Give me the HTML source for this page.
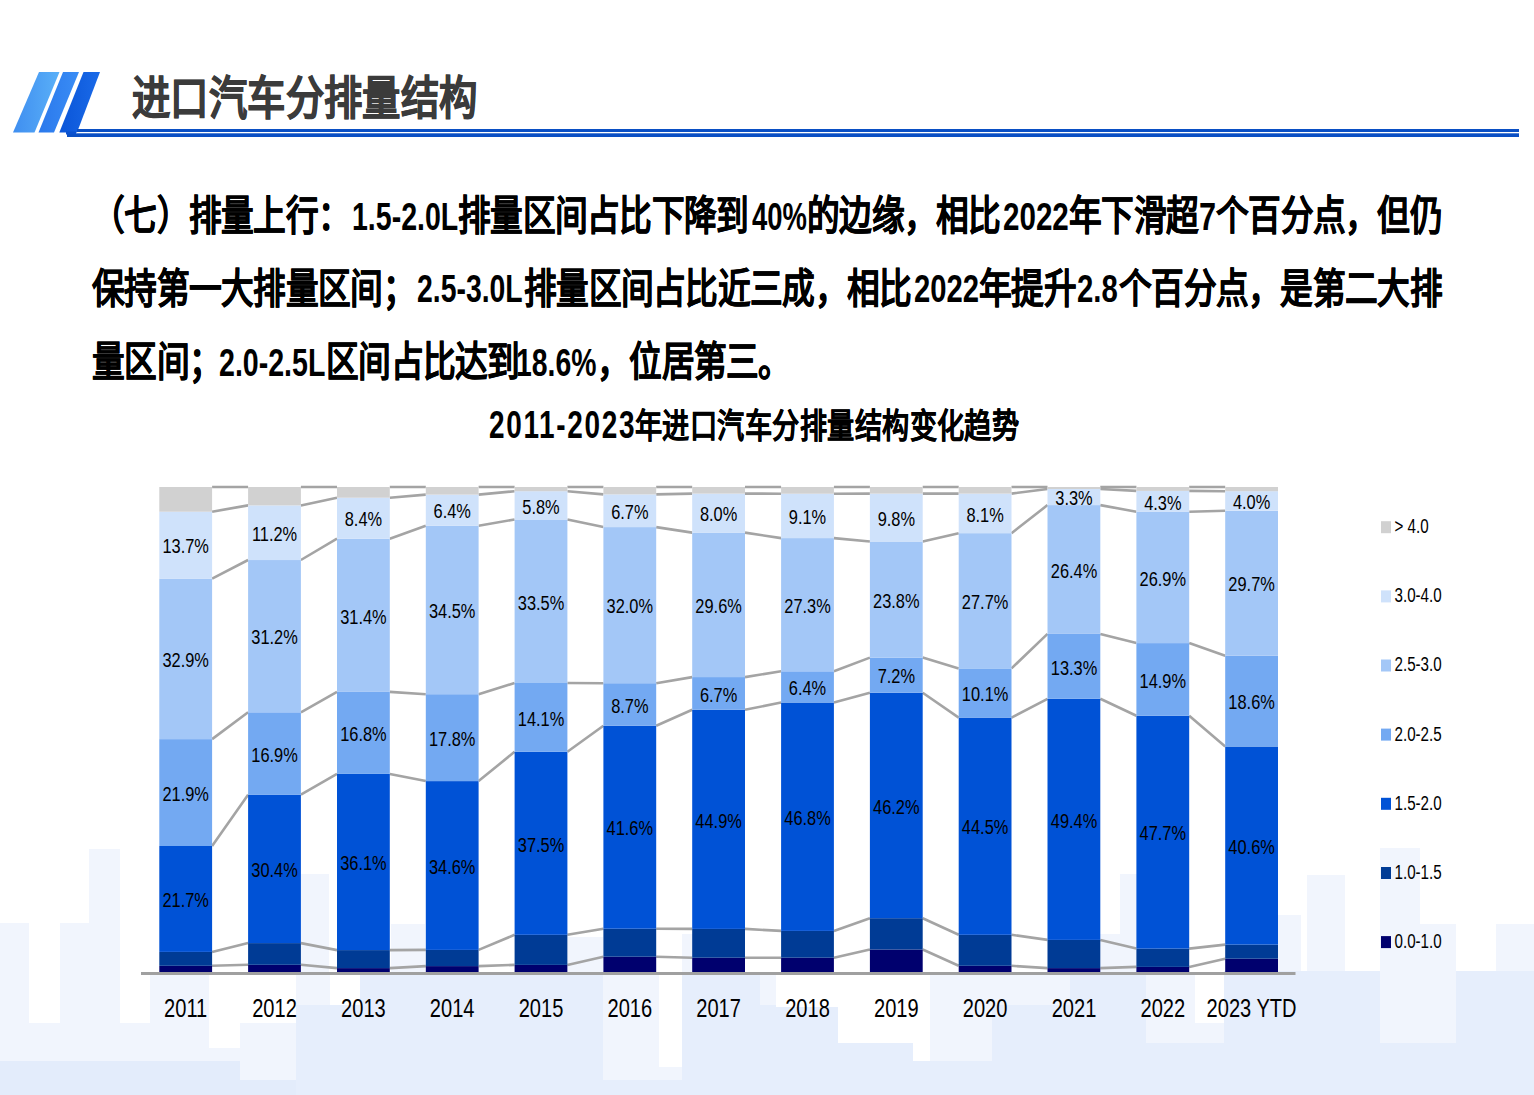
<!DOCTYPE html>
<html lang="zh-CN"><head><meta charset="utf-8">
<style>
html,body{margin:0;padding:0;background:#fff;}
body{width:1534px;height:1095px;overflow:hidden;position:relative;font-family:"Liberation Sans",sans-serif;}
.a{position:absolute;white-space:nowrap;transform-origin:0 0;text-spacing-trim:space-all;}
svg text{font-family:"Liberation Sans",sans-serif;fill:#000;}
.dl{font-size:20.70px;text-anchor:middle;}
.yl{font-size:25.63px;text-anchor:middle;}
.lg{font-size:19.30px;}
</style></head><body>

<svg class="a" style="left:0;top:0" width="1534" height="1095" shape-rendering="crispEdges"><rect x="0" y="923" width="29" height="138" fill="#f1f5fd"/><rect x="0" y="1061" width="29" height="34" fill="#e3ecfb"/><rect x="29" y="1023" width="31" height="38" fill="#f1f5fd"/><rect x="29" y="1061" width="31" height="34" fill="#e3ecfb"/><rect x="60" y="923" width="29" height="138" fill="#f1f5fd"/><rect x="60" y="1061" width="29" height="34" fill="#e3ecfb"/><rect x="89" y="849" width="31" height="212" fill="#f1f5fd"/><rect x="89" y="1061" width="31" height="34" fill="#e3ecfb"/><rect x="120" y="1023" width="30" height="38" fill="#f1f5fd"/><rect x="120" y="1061" width="30" height="34" fill="#e3ecfb"/><rect x="150" y="975" width="59" height="86" fill="#f1f5fd"/><rect x="150" y="1061" width="59" height="34" fill="#e3ecfb"/><rect x="209" y="1048" width="31" height="13" fill="#f1f5fd"/><rect x="209" y="1061" width="31" height="34" fill="#e3ecfb"/><rect x="240" y="1023" width="56" height="57" fill="#f1f5fd"/><rect x="240" y="1080" width="56" height="15" fill="#e3ecfb"/><rect x="296" y="975" width="34" height="30" fill="#f1f5fd"/><rect x="296" y="1005" width="34" height="90" fill="#e6eefc"/><rect x="301" y="874" width="28" height="101" fill="#f1f5fd"/><rect x="330" y="1005" width="30" height="90" fill="#e6eefc"/><rect x="360" y="975" width="243" height="120" fill="#e6eefc"/><rect x="391" y="924" width="34" height="51" fill="#f1f5fd"/><rect x="568" y="937" width="35" height="38" fill="#f1f5fd"/><rect x="603" y="975" width="56" height="105" fill="#f1f5fd"/><rect x="603" y="1080" width="56" height="15" fill="#e6eefc"/><rect x="659" y="1067" width="23" height="13" fill="#f1f5fd"/><rect x="659" y="1080" width="23" height="15" fill="#e6eefc"/><rect x="682" y="934" width="18" height="41" fill="#f1f5fd"/><rect x="682" y="975" width="78" height="120" fill="#e6eefc"/><rect x="760" y="975" width="16" height="30" fill="#f1f5fd"/><rect x="760" y="1005" width="16" height="90" fill="#e6eefc"/><rect x="776" y="1007" width="62" height="88" fill="#e6eefc"/><rect x="838" y="1043" width="75" height="52" fill="#e6eefc"/><rect x="913" y="1061" width="17" height="34" fill="#e6eefc"/><rect x="930" y="975" width="62" height="86" fill="#f1f5fd"/><rect x="930" y="1061" width="62" height="34" fill="#e6eefc"/><rect x="992" y="975" width="78" height="30" fill="#f1f5fd"/><rect x="992" y="1005" width="78" height="90" fill="#e6eefc"/><rect x="1070" y="975" width="76" height="120" fill="#e6eefc"/><rect x="1120" y="874" width="36" height="101" fill="#f1f5fd"/><rect x="1090" y="934" width="56" height="41" fill="#f1f5fd"/><rect x="1146" y="975" width="49" height="68" fill="#f1f5fd"/><rect x="1146" y="1043" width="49" height="52" fill="#e6eefc"/><rect x="1195" y="1023" width="29" height="20" fill="#f1f5fd"/><rect x="1195" y="1043" width="29" height="52" fill="#e6eefc"/><rect x="1224" y="971" width="156" height="124" fill="#e6eefc"/><rect x="1278" y="915" width="23" height="56" fill="#f1f5fd"/><rect x="1307" y="875" width="38" height="96" fill="#f1f5fd"/><rect x="1380" y="848" width="40" height="76" fill="#f1f5fd"/><rect x="1380" y="924" width="76" height="119" fill="#f1f5fd"/><rect x="1380" y="1043" width="76" height="52" fill="#e6eefc"/><rect x="1456" y="971" width="40" height="124" fill="#e6eefc"/><rect x="1496" y="924" width="38" height="47" fill="#f1f5fd"/><rect x="1496" y="971" width="38" height="124" fill="#e6eefc"/></svg>
<svg class="a" style="left:0;top:0" width="1534" height="160">
<defs>
<linearGradient id="g1" x1="0" y1="0" x2="1" y2="0"><stop offset="0" stop-color="#3f8ef0"/><stop offset="1" stop-color="#5ab0f8"/></linearGradient>
<linearGradient id="g2" x1="0" y1="0" x2="1" y2="0"><stop offset="0" stop-color="#2a78ec"/><stop offset="1" stop-color="#3a8df5"/></linearGradient>
<linearGradient id="g3" x1="0" y1="0" x2="1" y2="0"><stop offset="0" stop-color="#0a55d8"/><stop offset="1" stop-color="#1a6ae8"/></linearGradient>
</defs>
<polygon points="39,72 59.5,72 34.5,132.5 13,132.5" fill="url(#g1)"/>
<polygon points="63,72 79,72 54,132.5 38.5,132.5" fill="url(#g2)"/>
<polygon points="83.5,72 100,72 77,132.4 59.3,132.4" fill="url(#g3)"/>
<rect x="77" y="129" width="1442" height="3" fill="#0a4fc4"/>
<rect x="67" y="133.3" width="1452" height="3.7" fill="#0a4fc4"/>
<rect x="66" y="131.5" width="10" height="3" fill="#0b52d0"/>
</svg>
<div class="a" style="left:351.79px;top:197.60px;font-size:38.03px;line-height:38.03px;font-weight:bold;color:#000;transform:scaleX(0.7505)">1.5-2.0L</div>
<div class="a" style="left:751.95px;top:197.60px;font-size:38.03px;line-height:38.03px;font-weight:bold;color:#000;transform:scaleX(0.7215)">40%</div>
<div class="a" style="left:1002.81px;top:197.60px;font-size:38.03px;line-height:38.03px;font-weight:bold;color:#000;transform:scaleX(0.7779)">2022</div>
<div class="a" style="left:1199.07px;top:196.95px;font-size:39.71px;line-height:39.71px;font-weight:bold;color:#000;transform:scaleX(0.7716)">7</div>
<div class="a" style="left:417.25px;top:270.35px;font-size:38.31px;line-height:38.31px;font-weight:bold;color:#000;transform:scaleX(0.7410)">2.5-3.0L</div>
<div class="a" style="left:913.82px;top:270.35px;font-size:38.31px;line-height:38.31px;font-weight:bold;color:#000;transform:scaleX(0.7624)">2022</div>
<div class="a" style="left:1077.42px;top:270.35px;font-size:38.31px;line-height:38.31px;font-weight:bold;color:#000;transform:scaleX(0.7654)">2.8</div>
<div class="a" style="left:219.14px;top:343.59px;font-size:38.73px;line-height:38.73px;font-weight:bold;color:#000;transform:scaleX(0.7379)">2.0-2.5L</div>
<div class="a" style="left:516.40px;top:343.59px;font-size:38.73px;line-height:38.73px;font-weight:bold;color:#000;transform:scaleX(0.7323)">18.6%</div>
<div class="a" style="left:132.03px;top:75.72px;font-size:45.92px;line-height:45.92px;font-weight:bold;color:#3b3b3b;transform:scaleX(0.8345);-webkit-text-stroke:0.7px #3b3b3b">进口汽车分排量结构</div>
<div class="a" style="left:488.76px;top:406.10px;font-size:38.03px;line-height:38.03px;font-weight:bold;color:#000;transform:scaleX(0.7352);letter-spacing:0.06em">2011-2023</div>
<div class="a" style="left:635.08px;top:410.47px;font-size:33.67px;line-height:33.67px;font-weight:bold;color:#000;transform:scaleX(0.8075);-webkit-text-stroke:0.2px #000">年进口汽车分排量结构变化趋势</div>
<div class="a" style="left:92.00px;top:195.81px;font-size:40.50px;line-height:40.50px;font-weight:bold;color:#000;transform:scaleX(0.8074);-webkit-text-stroke:0.3px #000">（七）排量上行：</div>
<div class="a" style="left:458.20px;top:195.81px;font-size:40.50px;line-height:40.50px;font-weight:bold;color:#000;transform:scaleX(0.8074);-webkit-text-stroke:0.3px #000">排量区间占比下降到</div>
<div class="a" style="left:806.50px;top:195.81px;font-size:40.50px;line-height:40.50px;font-weight:bold;color:#000;transform:scaleX(0.8074);-webkit-text-stroke:0.3px #000">的边缘，相比</div>
<div class="a" style="left:1068.50px;top:195.81px;font-size:40.50px;line-height:40.50px;font-weight:bold;color:#000;transform:scaleX(0.8074);-webkit-text-stroke:0.3px #000">年下滑超</div>
<div class="a" style="left:1216.00px;top:195.81px;font-size:40.50px;line-height:40.50px;font-weight:bold;color:#000;transform:scaleX(0.8074);-webkit-text-stroke:0.3px #000">个百分点，但仍</div>
<div class="a" style="left:92.00px;top:268.50px;font-size:40.50px;line-height:40.50px;font-weight:bold;color:#000;transform:scaleX(0.8074);-webkit-text-stroke:0.3px #000">保持第一大排量区间；</div>
<div class="a" style="left:523.50px;top:268.50px;font-size:40.50px;line-height:40.50px;font-weight:bold;color:#000;transform:scaleX(0.8074);-webkit-text-stroke:0.3px #000">排量区间占比近三成，相比</div>
<div class="a" style="left:979.00px;top:268.50px;font-size:40.50px;line-height:40.50px;font-weight:bold;color:#000;transform:scaleX(0.8074);-webkit-text-stroke:0.3px #000">年提升</div>
<div class="a" style="left:1119.00px;top:268.50px;font-size:40.50px;line-height:40.50px;font-weight:bold;color:#000;transform:scaleX(0.8074);-webkit-text-stroke:0.3px #000">个百分点，是第二大排</div>
<div class="a" style="left:92.00px;top:341.80px;font-size:40.50px;line-height:40.50px;font-weight:bold;color:#000;transform:scaleX(0.8074);-webkit-text-stroke:0.3px #000">量区间；</div>
<div class="a" style="left:326.00px;top:341.80px;font-size:40.50px;line-height:40.50px;font-weight:bold;color:#000;transform:scaleX(0.8074);-webkit-text-stroke:0.3px #000">区间占比达到</div>
<div class="a" style="left:597.00px;top:341.80px;font-size:40.50px;line-height:40.50px;font-weight:bold;color:#000;transform:scaleX(0.8074);-webkit-text-stroke:0.3px #000">，位居第三。</div>
<svg class="a" style="left:0;top:0" width="1534" height="1095">
<path d="M212.1,965.8 L248.1,964.8 M300.9,964.8 L337.0,968.1 M389.8,968.1 L425.8,966.1 M478.6,966.1 L514.6,964.9 M567.4,964.9 L603.4,956.7 M656.2,956.7 L692.2,957.7 M745.0,957.7 L781.1,957.7 M833.9,957.7 L869.9,949.5 M922.7,949.5 L958.7,965.8 M1011.5,965.8 L1047.5,968.1 M1100.3,968.1 L1136.4,966.9 M1189.2,966.9 L1225.2,958.7" stroke="#a4a4a4" stroke-width="2.6" fill="none"/>
<path d="M212.1,951.9 L248.1,943.1 M300.9,943.1 L337.0,950.1 M389.8,950.1 L425.8,949.9 M478.6,949.9 L514.6,934.8 M567.4,934.8 L603.4,928.7 M656.2,928.7 L692.2,928.9 M745.0,928.9 L781.1,930.9 M833.9,930.9 L869.9,918.2 M922.7,918.2 L958.7,934.8 M1011.5,934.8 L1047.5,939.9 M1100.3,939.9 L1136.4,948.6 M1189.2,948.6 L1225.2,944.6" stroke="#a4a4a4" stroke-width="2.6" fill="none"/>
<path d="M212.1,846.0 L248.1,794.7 M300.9,794.7 L337.0,773.9 M389.8,773.9 L425.8,781.1 M478.6,781.1 L514.6,751.8 M567.4,751.8 L603.4,725.7 M656.2,725.7 L692.2,709.8 M745.0,709.8 L781.1,702.5 M833.9,702.5 L869.9,692.7 M922.7,692.7 L958.7,717.6 M1011.5,717.6 L1047.5,698.8 M1100.3,698.8 L1136.4,715.8 M1189.2,715.8 L1225.2,746.5" stroke="#a4a4a4" stroke-width="2.6" fill="none"/>
<path d="M212.1,739.1 L248.1,712.3 M300.9,712.3 L337.0,691.9 M389.8,691.9 L425.8,694.2 M478.6,694.2 L514.6,683.0 M567.4,683.0 L603.4,683.2 M656.2,683.2 L692.2,677.1 M745.0,677.1 L781.1,671.3 M833.9,671.3 L869.9,657.6 M922.7,657.6 L958.7,668.4 M1011.5,668.4 L1047.5,633.9 M1100.3,633.9 L1136.4,643.1 M1189.2,643.1 L1225.2,655.7" stroke="#a4a4a4" stroke-width="2.6" fill="none"/>
<path d="M212.1,578.6 L248.1,560.0 M300.9,560.0 L337.0,538.7 M389.8,538.7 L425.8,525.8 M478.6,525.8 L514.6,519.5 M567.4,519.5 L603.4,527.1 M656.2,527.1 L692.2,532.6 M745.0,532.6 L781.1,538.1 M833.9,538.1 L869.9,541.5 M922.7,541.5 L958.7,533.2 M1011.5,533.2 L1047.5,505.1 M1100.3,505.1 L1136.4,511.8 M1189.2,511.8 L1225.2,510.8" stroke="#a4a4a4" stroke-width="2.6" fill="none"/>
<path d="M212.1,511.7 L248.1,505.4 M300.9,505.4 L337.0,497.7 M389.8,497.7 L425.8,494.6 M478.6,494.6 L514.6,491.2 M567.4,491.2 L603.4,494.4 M656.2,494.4 L692.2,493.6 M745.0,493.6 L781.1,493.7 M833.9,493.7 L869.9,493.6 M922.7,493.6 L958.7,493.6 M1011.5,493.6 L1047.5,489.0 M1100.3,489.0 L1136.4,490.9 M1189.2,490.9 L1225.2,491.2" stroke="#a4a4a4" stroke-width="2.6" fill="none"/>
<path d="M212.1,487.0 L248.1,487.0 M300.9,487.0 L337.0,487.0 M389.8,487.0 L425.8,487.0 M478.6,487.0 L514.6,487.0 M567.4,487.0 L603.4,487.0 M656.2,487.0 L692.2,487.0 M745.0,487.0 L781.1,487.0 M833.9,487.0 L869.9,487.0 M922.7,487.0 L958.7,487.0 M1011.5,487.0 L1047.5,487.0 M1100.3,487.0 L1136.4,487.0 M1189.2,487.0 L1225.2,487.0" stroke="#a4a4a4" stroke-width="2.6" fill="none"/>
<rect x="159.3" y="965.8" width="52.8" height="6.2" fill="#00006e"/>
<rect x="159.3" y="951.9" width="52.8" height="13.9" fill="#003b95"/>
<rect x="159.3" y="846.0" width="52.8" height="105.9" fill="#0052d6"/>
<rect x="159.3" y="739.1" width="52.8" height="106.9" fill="#73a9f2"/>
<rect x="159.3" y="578.6" width="52.8" height="160.6" fill="#a3c7f7"/>
<rect x="159.3" y="511.7" width="52.8" height="66.9" fill="#cfe2fb"/>
<rect x="159.3" y="487.0" width="52.8" height="24.7" fill="#d1d1d1"/>
<rect x="248.1" y="964.8" width="52.8" height="7.2" fill="#00006e"/>
<rect x="248.1" y="943.1" width="52.8" height="21.7" fill="#003b95"/>
<rect x="248.1" y="794.7" width="52.8" height="148.4" fill="#0052d6"/>
<rect x="248.1" y="712.3" width="52.8" height="82.5" fill="#73a9f2"/>
<rect x="248.1" y="560.0" width="52.8" height="152.3" fill="#a3c7f7"/>
<rect x="248.1" y="505.4" width="52.8" height="54.7" fill="#cfe2fb"/>
<rect x="248.1" y="487.0" width="52.8" height="18.4" fill="#d1d1d1"/>
<rect x="337.0" y="968.1" width="52.8" height="3.9" fill="#00006e"/>
<rect x="337.0" y="950.1" width="52.8" height="18.0" fill="#003b95"/>
<rect x="337.0" y="773.9" width="52.8" height="176.2" fill="#0052d6"/>
<rect x="337.0" y="691.9" width="52.8" height="82.0" fill="#73a9f2"/>
<rect x="337.0" y="538.7" width="52.8" height="153.2" fill="#a3c7f7"/>
<rect x="337.0" y="497.7" width="52.8" height="41.0" fill="#cfe2fb"/>
<rect x="337.0" y="487.0" width="52.8" height="10.7" fill="#d1d1d1"/>
<rect x="425.8" y="966.1" width="52.8" height="5.9" fill="#00006e"/>
<rect x="425.8" y="949.9" width="52.8" height="16.2" fill="#003b95"/>
<rect x="425.8" y="781.1" width="52.8" height="168.8" fill="#0052d6"/>
<rect x="425.8" y="694.2" width="52.8" height="86.9" fill="#73a9f2"/>
<rect x="425.8" y="525.8" width="52.8" height="168.4" fill="#a3c7f7"/>
<rect x="425.8" y="494.6" width="52.8" height="31.2" fill="#cfe2fb"/>
<rect x="425.8" y="487.0" width="52.8" height="7.6" fill="#d1d1d1"/>
<rect x="514.6" y="964.9" width="52.8" height="7.1" fill="#00006e"/>
<rect x="514.6" y="934.8" width="52.8" height="30.1" fill="#003b95"/>
<rect x="514.6" y="751.8" width="52.8" height="183.0" fill="#0052d6"/>
<rect x="514.6" y="683.0" width="52.8" height="68.8" fill="#73a9f2"/>
<rect x="514.6" y="519.5" width="52.8" height="163.5" fill="#a3c7f7"/>
<rect x="514.6" y="491.2" width="52.8" height="28.3" fill="#cfe2fb"/>
<rect x="514.6" y="487.0" width="52.8" height="4.2" fill="#d1d1d1"/>
<rect x="603.4" y="956.7" width="52.8" height="15.3" fill="#00006e"/>
<rect x="603.4" y="928.7" width="52.8" height="28.0" fill="#003b95"/>
<rect x="603.4" y="725.7" width="52.8" height="203.0" fill="#0052d6"/>
<rect x="603.4" y="683.2" width="52.8" height="42.5" fill="#73a9f2"/>
<rect x="603.4" y="527.1" width="52.8" height="156.2" fill="#a3c7f7"/>
<rect x="603.4" y="494.4" width="52.8" height="32.7" fill="#cfe2fb"/>
<rect x="603.4" y="487.0" width="52.8" height="7.4" fill="#d1d1d1"/>
<rect x="692.2" y="957.7" width="52.8" height="14.3" fill="#00006e"/>
<rect x="692.2" y="928.9" width="52.8" height="28.8" fill="#003b95"/>
<rect x="692.2" y="709.8" width="52.8" height="219.1" fill="#0052d6"/>
<rect x="692.2" y="677.1" width="52.8" height="32.7" fill="#73a9f2"/>
<rect x="692.2" y="532.6" width="52.8" height="144.4" fill="#a3c7f7"/>
<rect x="692.2" y="493.6" width="52.8" height="39.0" fill="#cfe2fb"/>
<rect x="692.2" y="487.0" width="52.8" height="6.6" fill="#d1d1d1"/>
<rect x="781.1" y="957.7" width="52.8" height="14.3" fill="#00006e"/>
<rect x="781.1" y="930.9" width="52.8" height="26.8" fill="#003b95"/>
<rect x="781.1" y="702.5" width="52.8" height="228.4" fill="#0052d6"/>
<rect x="781.1" y="671.3" width="52.8" height="31.2" fill="#73a9f2"/>
<rect x="781.1" y="538.1" width="52.8" height="133.2" fill="#a3c7f7"/>
<rect x="781.1" y="493.7" width="52.8" height="44.4" fill="#cfe2fb"/>
<rect x="781.1" y="487.0" width="52.8" height="6.7" fill="#d1d1d1"/>
<rect x="869.9" y="949.5" width="52.8" height="22.5" fill="#00006e"/>
<rect x="869.9" y="918.2" width="52.8" height="31.3" fill="#003b95"/>
<rect x="869.9" y="692.7" width="52.8" height="225.5" fill="#0052d6"/>
<rect x="869.9" y="657.6" width="52.8" height="35.1" fill="#73a9f2"/>
<rect x="869.9" y="541.5" width="52.8" height="116.1" fill="#a3c7f7"/>
<rect x="869.9" y="493.6" width="52.8" height="47.8" fill="#cfe2fb"/>
<rect x="869.9" y="487.0" width="52.8" height="6.6" fill="#d1d1d1"/>
<rect x="958.7" y="965.8" width="52.8" height="6.2" fill="#00006e"/>
<rect x="958.7" y="934.8" width="52.8" height="31.0" fill="#003b95"/>
<rect x="958.7" y="717.6" width="52.8" height="217.2" fill="#0052d6"/>
<rect x="958.7" y="668.4" width="52.8" height="49.3" fill="#73a9f2"/>
<rect x="958.7" y="533.2" width="52.8" height="135.2" fill="#a3c7f7"/>
<rect x="958.7" y="493.6" width="52.8" height="39.5" fill="#cfe2fb"/>
<rect x="958.7" y="487.0" width="52.8" height="6.6" fill="#d1d1d1"/>
<rect x="1047.5" y="968.1" width="52.8" height="3.9" fill="#00006e"/>
<rect x="1047.5" y="939.9" width="52.8" height="28.2" fill="#003b95"/>
<rect x="1047.5" y="698.8" width="52.8" height="241.1" fill="#0052d6"/>
<rect x="1047.5" y="633.9" width="52.8" height="64.9" fill="#73a9f2"/>
<rect x="1047.5" y="505.1" width="52.8" height="128.8" fill="#a3c7f7"/>
<rect x="1047.5" y="489.0" width="52.8" height="16.1" fill="#cfe2fb"/>
<rect x="1047.5" y="487.0" width="52.8" height="2.0" fill="#d1d1d1"/>
<rect x="1136.4" y="966.9" width="52.8" height="5.1" fill="#00006e"/>
<rect x="1136.4" y="948.6" width="52.8" height="18.3" fill="#003b95"/>
<rect x="1136.4" y="715.8" width="52.8" height="232.8" fill="#0052d6"/>
<rect x="1136.4" y="643.1" width="52.8" height="72.7" fill="#73a9f2"/>
<rect x="1136.4" y="511.8" width="52.8" height="131.3" fill="#a3c7f7"/>
<rect x="1136.4" y="490.9" width="52.8" height="21.0" fill="#cfe2fb"/>
<rect x="1136.4" y="487.0" width="52.8" height="3.9" fill="#d1d1d1"/>
<rect x="1225.2" y="958.7" width="52.8" height="13.3" fill="#00006e"/>
<rect x="1225.2" y="944.6" width="52.8" height="14.1" fill="#003b95"/>
<rect x="1225.2" y="746.5" width="52.8" height="198.1" fill="#0052d6"/>
<rect x="1225.2" y="655.7" width="52.8" height="90.8" fill="#73a9f2"/>
<rect x="1225.2" y="510.8" width="52.8" height="144.9" fill="#a3c7f7"/>
<rect x="1225.2" y="491.2" width="52.8" height="19.5" fill="#cfe2fb"/>
<rect x="1225.2" y="487.0" width="52.8" height="4.2" fill="#d1d1d1"/>
<rect x="141" y="972" width="1154.5" height="3" fill="#a0a0a0"/>
<text transform="translate(185.7,907.2) scale(0.7920,1)" class="dl">21.7%</text>
<text transform="translate(185.7,800.8) scale(0.7920,1)" class="dl">21.9%</text>
<text transform="translate(185.7,667.1) scale(0.7920,1)" class="dl">32.9%</text>
<text transform="translate(185.7,553.4) scale(0.7920,1)" class="dl">13.7%</text>
<text transform="translate(185.7,1016.8) scale(0.7840,1)" class="yl">2011</text>
<text transform="translate(274.5,877.1) scale(0.7920,1)" class="dl">30.4%</text>
<text transform="translate(274.5,761.7) scale(0.7920,1)" class="dl">16.9%</text>
<text transform="translate(274.5,644.3) scale(0.7920,1)" class="dl">31.2%</text>
<text transform="translate(274.5,540.9) scale(0.7920,1)" class="dl">11.2%</text>
<text transform="translate(274.5,1016.8) scale(0.7840,1)" class="yl">2012</text>
<text transform="translate(363.4,870.2) scale(0.7920,1)" class="dl">36.1%</text>
<text transform="translate(363.4,741.1) scale(0.7920,1)" class="dl">16.8%</text>
<text transform="translate(363.4,623.5) scale(0.7920,1)" class="dl">31.4%</text>
<text transform="translate(363.4,526.4) scale(0.7920,1)" class="dl">8.4%</text>
<text transform="translate(363.4,1016.8) scale(0.7840,1)" class="yl">2013</text>
<text transform="translate(452.2,873.7) scale(0.7920,1)" class="dl">34.6%</text>
<text transform="translate(452.2,745.8) scale(0.7920,1)" class="dl">17.8%</text>
<text transform="translate(452.2,618.2) scale(0.7920,1)" class="dl">34.5%</text>
<text transform="translate(452.2,518.4) scale(0.7920,1)" class="dl">6.4%</text>
<text transform="translate(452.2,1016.8) scale(0.7840,1)" class="yl">2014</text>
<text transform="translate(541.0,851.5) scale(0.7920,1)" class="dl">37.5%</text>
<text transform="translate(541.0,725.6) scale(0.7920,1)" class="dl">14.1%</text>
<text transform="translate(541.0,609.5) scale(0.7920,1)" class="dl">33.5%</text>
<text transform="translate(541.0,513.6) scale(0.7920,1)" class="dl">5.8%</text>
<text transform="translate(541.0,1016.8) scale(0.7840,1)" class="yl">2015</text>
<text transform="translate(629.8,835.4) scale(0.7920,1)" class="dl">41.6%</text>
<text transform="translate(629.8,712.7) scale(0.7920,1)" class="dl">8.7%</text>
<text transform="translate(629.8,613.4) scale(0.7920,1)" class="dl">32.0%</text>
<text transform="translate(629.8,518.9) scale(0.7920,1)" class="dl">6.7%</text>
<text transform="translate(629.8,1016.8) scale(0.7840,1)" class="yl">2016</text>
<text transform="translate(718.6,827.5) scale(0.7920,1)" class="dl">44.9%</text>
<text transform="translate(718.6,701.6) scale(0.7920,1)" class="dl">6.7%</text>
<text transform="translate(718.6,613.1) scale(0.7920,1)" class="dl">29.6%</text>
<text transform="translate(718.6,521.3) scale(0.7920,1)" class="dl">8.0%</text>
<text transform="translate(718.6,1016.8) scale(0.7840,1)" class="yl">2017</text>
<text transform="translate(807.5,824.9) scale(0.7920,1)" class="dl">46.8%</text>
<text transform="translate(807.5,695.1) scale(0.7920,1)" class="dl">6.4%</text>
<text transform="translate(807.5,612.9) scale(0.7920,1)" class="dl">27.3%</text>
<text transform="translate(807.5,524.1) scale(0.7920,1)" class="dl">9.1%</text>
<text transform="translate(807.5,1016.8) scale(0.7840,1)" class="yl">2018</text>
<text transform="translate(896.3,813.7) scale(0.7920,1)" class="dl">46.2%</text>
<text transform="translate(896.3,683.4) scale(0.7920,1)" class="dl">7.2%</text>
<text transform="translate(896.3,607.7) scale(0.7920,1)" class="dl">23.8%</text>
<text transform="translate(896.3,525.8) scale(0.7920,1)" class="dl">9.8%</text>
<text transform="translate(896.3,1016.8) scale(0.7840,1)" class="yl">2019</text>
<text transform="translate(985.1,834.4) scale(0.7920,1)" class="dl">44.5%</text>
<text transform="translate(985.1,701.2) scale(0.7920,1)" class="dl">10.1%</text>
<text transform="translate(985.1,609.0) scale(0.7920,1)" class="dl">27.7%</text>
<text transform="translate(985.1,521.6) scale(0.7920,1)" class="dl">8.1%</text>
<text transform="translate(985.1,1016.8) scale(0.7840,1)" class="yl">2020</text>
<text transform="translate(1074.0,827.6) scale(0.7920,1)" class="dl">49.4%</text>
<text transform="translate(1074.0,674.6) scale(0.7920,1)" class="dl">13.3%</text>
<text transform="translate(1074.0,577.7) scale(0.7920,1)" class="dl">26.4%</text>
<text transform="translate(1074.0,505.2) scale(0.7920,1)" class="dl">3.3%</text>
<text transform="translate(1074.0,1016.8) scale(0.7840,1)" class="yl">2021</text>
<text transform="translate(1162.8,840.4) scale(0.7920,1)" class="dl">47.7%</text>
<text transform="translate(1162.8,687.7) scale(0.7920,1)" class="dl">14.9%</text>
<text transform="translate(1162.8,585.7) scale(0.7920,1)" class="dl">26.9%</text>
<text transform="translate(1162.8,509.5) scale(0.7920,1)" class="dl">4.3%</text>
<text transform="translate(1162.8,1016.8) scale(0.7840,1)" class="yl">2022</text>
<text transform="translate(1251.6,853.7) scale(0.7920,1)" class="dl">40.6%</text>
<text transform="translate(1251.6,709.3) scale(0.7920,1)" class="dl">18.6%</text>
<text transform="translate(1251.6,591.4) scale(0.7920,1)" class="dl">29.7%</text>
<text transform="translate(1251.6,509.2) scale(0.7920,1)" class="dl">4.0%</text>
<text transform="translate(1251.6,1016.8) scale(0.7840,1)" class="yl">2023 YTD</text>
<rect x="1381" y="936.1" width="10" height="12" fill="#00006e"/>
<text transform="translate(1394.5,948.0) scale(0.7851,1)" class="lg">0.0-1.0</text>
<rect x="1381" y="867.0" width="10" height="12" fill="#003b95"/>
<text transform="translate(1394.5,878.9) scale(0.7851,1)" class="lg">1.0-1.5</text>
<rect x="1381" y="797.8" width="10" height="12" fill="#0052d6"/>
<text transform="translate(1394.5,809.7) scale(0.7851,1)" class="lg">1.5-2.0</text>
<rect x="1381" y="728.6" width="10" height="12" fill="#73a9f2"/>
<text transform="translate(1394.5,740.5) scale(0.7851,1)" class="lg">2.0-2.5</text>
<rect x="1381" y="659.5" width="10" height="12" fill="#a3c7f7"/>
<text transform="translate(1394.5,671.4) scale(0.7851,1)" class="lg">2.5-3.0</text>
<rect x="1381" y="590.4" width="10" height="12" fill="#cfe2fb"/>
<text transform="translate(1394.5,602.2) scale(0.7851,1)" class="lg">3.0-4.0</text>
<rect x="1381" y="521.2" width="10" height="12" fill="#d1d1d1"/>
<text transform="translate(1394.5,533.1) scale(0.7851,1)" class="lg">&gt; 4.0</text>
</svg>
</body></html>
